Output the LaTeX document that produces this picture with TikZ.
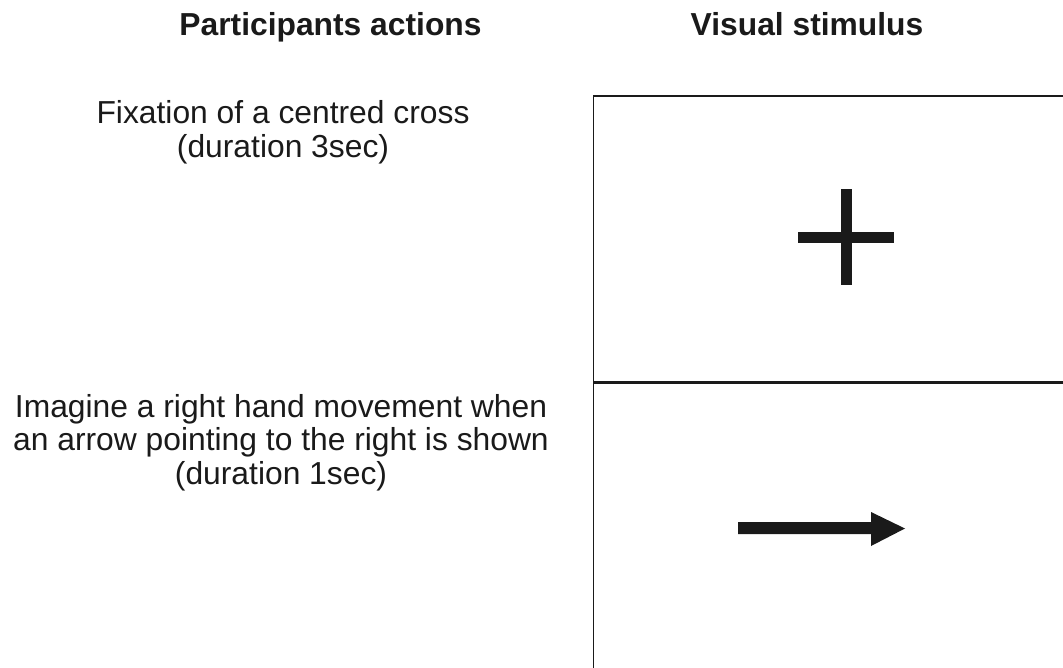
\documentclass[tikz,border=0pt]{standalone}
\usepackage{fontspec}
\setmainfont{Liberation Sans}
\definecolor{ink}{HTML}{1A1A1A}
\begin{document}
\begin{tikzpicture}[x=1pt,y=-1pt,
  every node/.style={inner sep=0pt,outer sep=0pt},
  heading/.style={font=\fontsize{31.8}{33.5}\selectfont\bfseries,anchor=base,text=ink},
  action/.style={font=\fontsize{31.8}{33.5}\selectfont,align=center,anchor=base,text=ink},
  frame/.style={draw=ink,line width=1.6pt},
  divider/.style={draw=ink,line width=2.5pt},
  glyph/.style={fill=ink,draw=none}]
\useasboundingbox (0,0) rectangle (1063,668);

% column headings
\node[heading] (hact) at (330.5,35.5) {Participants actions};
\node[heading] (hvis) at (807,35.5) {Visual stimulus};

% participant instructions (anchored on the baseline of the last line)
\node[action] (fix) at (283,157.5) {Fixation of a centred cross\\(duration 3sec)};
\node[action] (imag) at (281,484) {Imagine a right hand movement when\\an arrow pointing to the right is shown\\(duration 1sec)};

% stimulus panels
\coordinate (tl) at (593.5,96);
\coordinate (tr) at (1063,96);
\coordinate (bl) at (593.5,668);
\coordinate (ml) at (593.5,382.5);
\coordinate (mr) at (1063,382.5);
\draw[frame] (tr) -- (tl) -- (bl);
\draw[divider] (ml) -- (mr);

% fixation cross
\fill[glyph] (841,189) rectangle (852,285);
\fill[glyph] (798,232) rectangle (894,243);

% right-pointing arrow
\fill[glyph] (738,522) -- (871,522) -- (871,512) -- (905,528.5) -- (871,546) -- (871,534) -- (738,534) -- cycle;
\end{tikzpicture}
\end{document}
